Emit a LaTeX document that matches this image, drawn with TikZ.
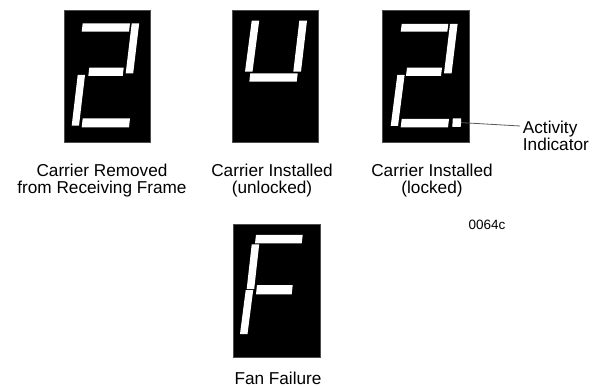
\documentclass[tikz,border=0pt]{standalone}
\usepackage{fontspec}
\setmainfont{Liberation Sans}
\usetikzlibrary{calc}
\newcommand{\vsg}[5]{\fill[segcol] (#1,#3) -- ({#1+#5},#3) -- ({#2+#5},#4) -- (#2,#4) -- cycle;}
\newcommand{\hsg}[4]{\fill[segcol] ({#1+1},#3) -- ({#2+1},#3) -- (#2,#4) -- (#1,#4) -- cycle;}
\begin{document}
\begin{tikzpicture}[x=1pt,y=-1pt,
  segcol/.style={white},
  dispbox/.style={fill=black,draw=black!70,line width=0.6pt},
  lbl/.style={inner sep=0pt,align=center,font=\fontsize{17.2}{16.7}\selectfont},
  codelbl/.style={inner sep=0pt,font=\fontsize{13.5}{15}\selectfont},
  leader/.style={draw=black!65,line width=0.8pt}]
\useasboundingbox (0,0) rectangle (602,387);
% display 1: "2"
\path[dispbox] (64.3,10) rectangle (150.7,142.7);
\hsg{81.7}{129}{23.3}{31.7}
\vsg{131.7}{125.7}{23.3}{73.3}{7.5}
\hsg{88.3}{122.7}{67.7}{76}
\vsg{77.7}{71.7}{75}{125.7}{7.3}
\hsg{81.7}{129}{118.3}{127.3}
% display 2: "U"
\path[dispbox] (232.3,10) rectangle (318.3,142.7);
\vsg{251.7}{245}{20.7}{71.7}{7.5}
\vsg{299.3}{293.3}{20.7}{71.7}{7.7}
\hsg{249.3}{296.7}{73.3}{81.7}
% display 3: "2."
\path[dispbox] (382.3,10) rectangle (469.3,142.7);
\hsg{400.7}{447.3}{24}{31.7}
\vsg{450}{444}{24}{73.3}{7.6}
\hsg{406}{441}{67.7}{76}
\vsg{397.3}{390.7}{75}{126}{7.3}
\hsg{400.7}{448}{119}{127.3}
\fill[segcol] (452.8,118.3) -- (461.2,118.3) -- (460.7,127) -- (452.3,127) -- cycle;
\coordinate (dot) at (461,122.6);
% display 4: "F"
\path[dispbox] (233.3,224) rectangle (320,357.3);
\hsg{255}{301.7}{235}{243.3}
\vsg{251.7}{246.7}{244.3}{289}{7.5}
\hsg{256}{291.7}{285}{294.3}
\vsg{245.7}{240}{290}{334}{7.5}
% labels (base anchor = baseline of the last line)
\node[lbl,anchor=base] (l1) at (102,193.7) {Carrier Removed\\from Receiving Frame};
\node[lbl,anchor=base] (l2) at (272,193.7) {Carrier Installed\\(unlocked)};
\node[lbl,anchor=base] (l3) at (432,193.7) {Carrier Installed\\(locked)};
\node[lbl,anchor=base west,align=left,font=\fontsize{17.2}{15.7}\selectfont] (act) at (522.7,150.7) {Activity\\Indicator};
\node[codelbl,anchor=base west] (code) at (468.3,230) {0064c};
\node[lbl,anchor=base] (fan) at (278,384.3) {Fan Failure};
\coordinate (actend) at (520,126);
\draw[leader] (dot) -- (actend);
\end{tikzpicture}
\end{document}
